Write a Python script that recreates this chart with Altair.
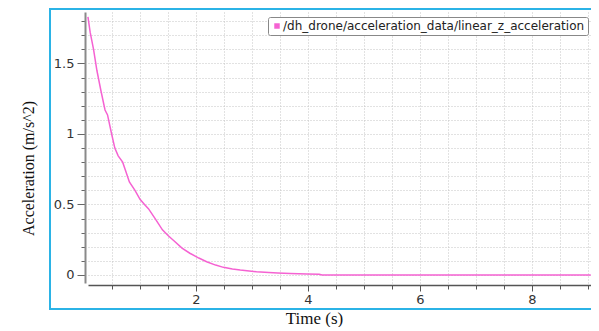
import altair as alt
import pandas as pd

series_name = "/dh_drone/acceleration_data/linear_z_acceleration"

time_s = [0.07, 0.11, 0.17, 0.23, 0.30, 0.375, 0.42, 0.49, 0.55, 0.61, 0.69, 0.75,
          0.81, 0.91, 1.00, 1.08, 1.15, 1.27, 1.40, 1.50, 1.59, 1.75, 1.89, 2.05,
          2.19, 2.35, 2.49, 2.65, 2.79, 2.95, 3.08, 3.30, 3.46, 3.68, 3.98, 4.20,
          4.25, 5.0, 6.0, 7.0, 8.0, 9.05]
accel = [1.83, 1.72, 1.60, 1.45, 1.31, 1.17, 1.135, 1.005, 0.90, 0.845, 0.80, 0.73,
         0.66, 0.60, 0.537, 0.50, 0.47, 0.40, 0.32, 0.28, 0.248, 0.19, 0.154, 0.12,
         0.094, 0.07, 0.054, 0.043, 0.035, 0.028, 0.023, 0.017, 0.014, 0.011, 0.007, 0.005,
         0.0, 0.0, 0.0, 0.0, 0.0, 0.0]

x_major = [2, 4, 6, 8]
x_minor = [0.5, 1.0, 1.5, 2.0, 2.5, 3.0, 3.5, 4.0, 4.5, 5.0, 5.5, 6.0, 6.5, 7.0,
           7.5, 8.0, 8.5, 9.0]
y_major = [0, 0.5, 1, 1.5]
y_minor = [0.0, 0.1, 0.2, 0.3, 0.4, 0.5, 0.6, 0.7, 0.8, 0.9, 1.0, 1.1, 1.2, 1.3,
           1.4, 1.5, 1.6, 1.7, 1.8]

x_domain = [0.071, 9.054]
y_domain = [-0.057, 1.865]

pink = "#f562d2"
frame_blue = "#2bb3e6"

df = pd.DataFrame({"t": time_s, "a": accel, "series": [series_name] * len(time_s)})

xs = alt.Scale(domain=x_domain, nice=False, zero=False)
ys = alt.Scale(domain=y_domain, nice=False, zero=False)

grid = alt.Chart(df).mark_line(opacity=0).encode(
    x=alt.X("t:Q", scale=xs, axis=alt.Axis(
        values=x_minor, orient="bottom", offset=2, labels=False, tickSize=4,
        tickColor="#555", domain=False, grid=True, gridColor="#c4c4c4",
        gridDash=[1, 2], gridWidth=1, title="")),
    y=alt.Y("a:Q", scale=ys, axis=alt.Axis(
        values=y_minor, orient="left", offset=3, labels=False, tickSize=4,
        tickColor="#666", domain=False, grid=True, gridColor="#c4c4c4",
        gridDash=[1, 2], gridWidth=1, title="")),
)

line = alt.Chart(df).mark_line(strokeWidth=1.5).encode(
    x=alt.X("t:Q", scale=xs, axis=alt.Axis(
        values=x_major, orient="bottom", offset=2, grid=False, tickSize=6,
        tickColor="#555", domainColor="#555", domainWidth=1.5, format="~g",
        labelFont="DejaVu Sans", labelFontSize=13, labelColor="#333", labelPadding=2,
        title="Time (s)", titleFont="Liberation Serif", titleFontSize=17,
        titleFontWeight="normal", titleColor="#111", titleX=226, titleY=38,
        titleBaseline="alphabetic")),
    y=alt.Y("a:Q", scale=ys, axis=alt.Axis(
        values=y_major, orient="left", offset=3, grid=False, tickSize=8,
        tickColor="#666", domainColor="#8a8a8a", domainWidth=2, format="~g",
        labelFont="DejaVu Sans", labelFontSize=13, labelColor="#333", labelPadding=3,
        title="Acceleration (m/s^2)", titleFont="Liberation Serif", titleFontSize=16,
        titleFontWeight="normal", titleColor="#111", titleX=-52, titleY=156,
        titleBaseline="alphabetic", titleAngle=270)),
    color=alt.Color("series:N", scale=alt.Scale(domain=[series_name], range=[pink]),
                    legend=alt.Legend(orient="none", legendX=180, legendY=5, title=None,
                                      strokeColor="#888", fillColor="white", padding=3,
                                      cornerRadius=2, symbolType="square", symbolSize=30,
                                      symbolFillColor=pink, symbolStrokeWidth=0,
                                      labelFont="DejaVu Sans", labelFontSize=12,
                                      labelColor="#222", labelOffset=0, labelLimit=500)),
)

frame = alt.Chart(pd.DataFrame({"k": [0]})).mark_rect(
    fill="transparent", stroke=frame_blue, strokeWidth=2, clip=False
).encode(x=alt.value(-38), x2=alt.value(508), y=alt.value(-3), y2=alt.value(297))

chart = alt.layer(grid, line, frame).resolve_axis(
    x="independent", y="independent"
).properties(
    width=503, height=271,
    padding={"left": 80, "top": 4, "right": 0, "bottom": 44},
    autosize=alt.AutoSizeParams(type="none"),
).configure_view(strokeWidth=0)

chart.save("out.html", embed_options={"renderer": "svg", "actions": False})
